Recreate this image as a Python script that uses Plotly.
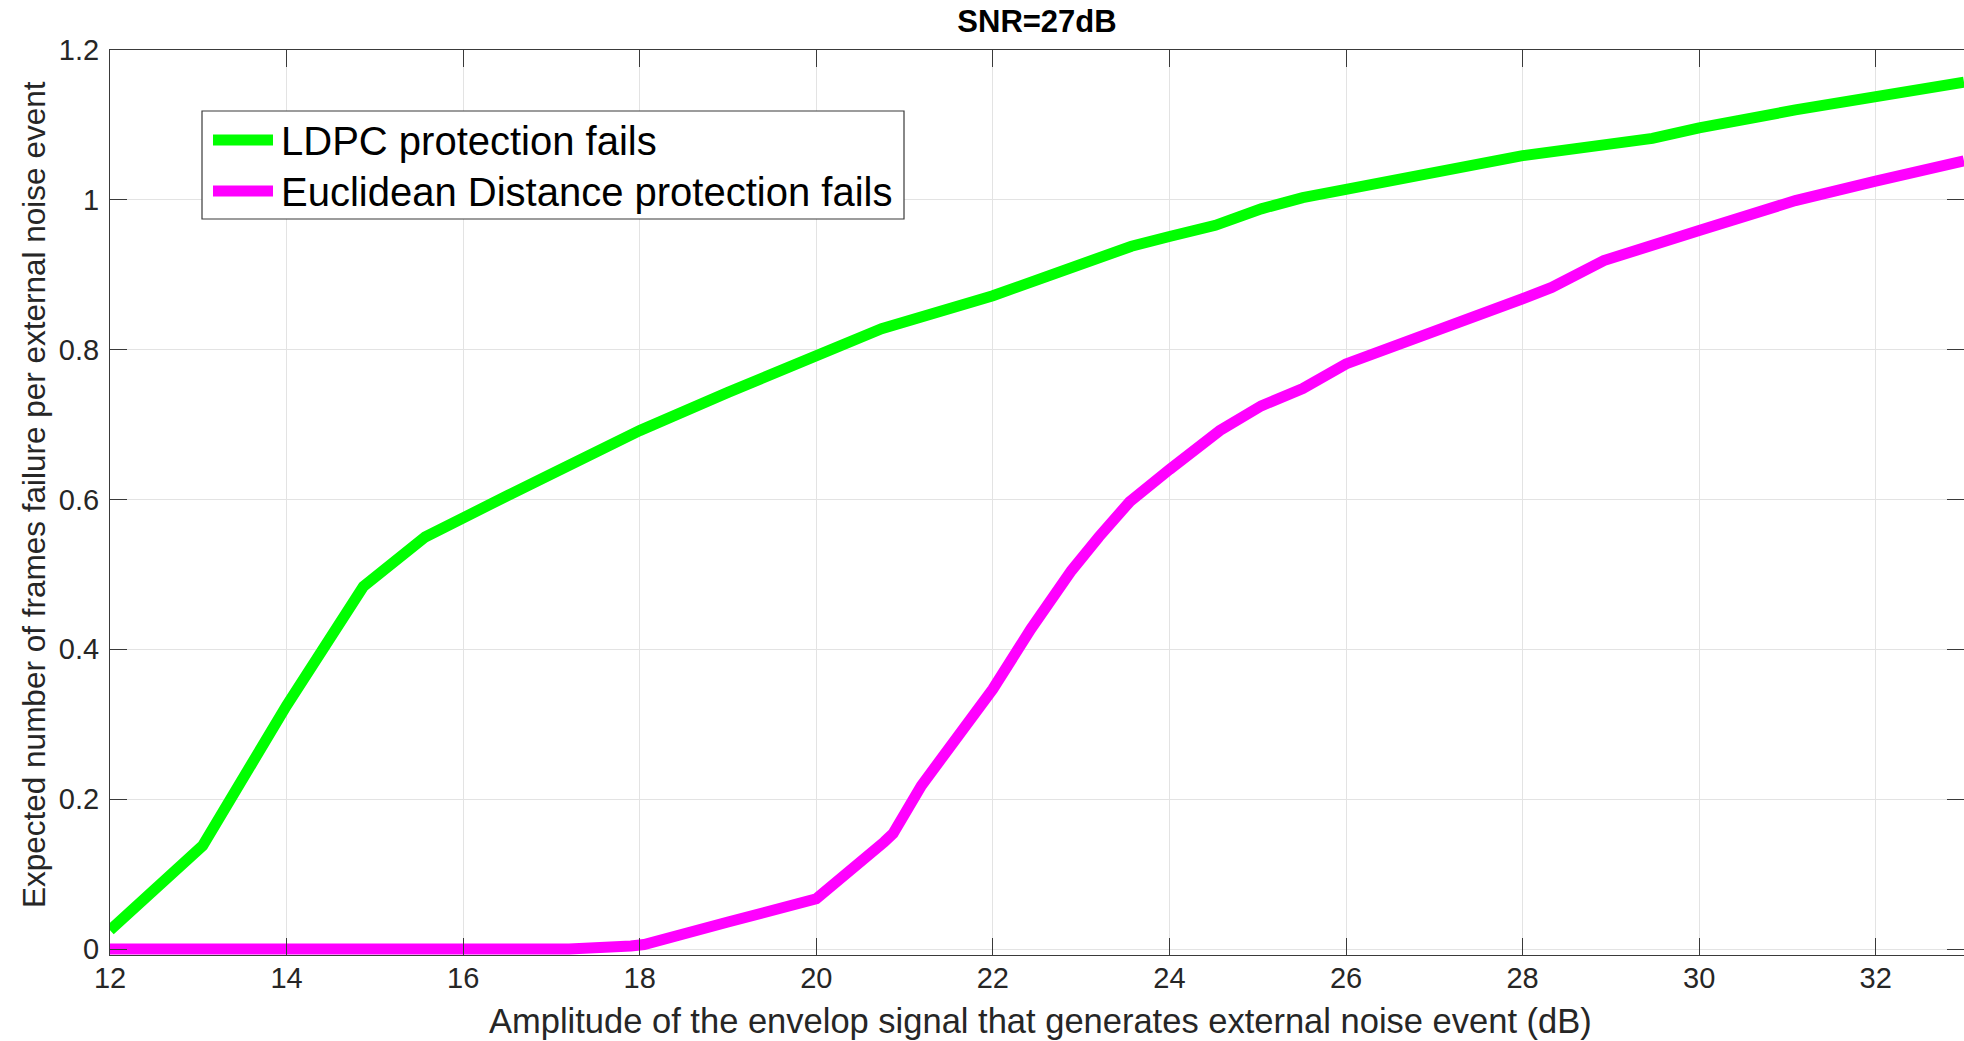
import plotly.graph_objects as go

# ---------------- data ----------------
ldpc_x = [12, 13.0, 13.05, 14, 14.8, 14.87, 15.57, 16, 16.5, 17, 18, 19, 20, 20.74,
          22, 22.96, 23.57, 24, 24.52, 25.04, 25.51, 26, 27, 28, 29.47, 30, 31.09, 32, 33]
ldpc_y = [0.025, 0.130, 0.138, 0.325, 0.472, 0.484, 0.550, 0.577, 0.605, 0.634, 0.692,
          0.743, 0.794, 0.828, 0.872, 0.910, 0.938, 0.951, 0.966, 0.988, 1.003, 1.014,
          1.035, 1.059, 1.082, 1.096, 1.120, 1.136, 1.157]

eucl_x = [12, 17.2, 17.9, 18.05, 19, 20, 20.77, 20.87, 21.19, 21.6, 22, 22.43, 22.89, 23.2,
          23.49, 23.55, 24, 24.57, 25.04, 25.51, 26, 27, 28, 28.33, 28.92, 30, 30.56, 31.09, 32, 33]
eucl_y = [0.0, 0.0, 0.004, 0.006, 0.036, 0.067, 0.143, 0.154, 0.218, 0.283, 0.347, 0.427,
          0.505, 0.550, 0.588, 0.597, 0.640, 0.692, 0.725, 0.748, 0.781, 0.823, 0.868, 0.883,
          0.919, 0.959, 0.981, 0.999, 1.025, 1.052]

series_names = ["LDPC protection fails", "Euclidean Distance protection fails"]
series_colors = ["#00ff00", "#ff00ff"]

x_ticks = [12, 14, 16, 18, 20, 22, 24, 26, 28, 30, 32]
y_ticks = [0, 0.2, 0.4, 0.6, 0.8, 1.0, 1.2]

title_text = "SNR=27dB"
x_title = "Amplitude of the envelop signal that generates external noise event (dB)"
y_title = "Expected number of frames failure per external noise event"

# ---------------- layout geometry ----------------
W, H = 1964, 1041
ML, MT, MB, MR = 110, 50, 86, 0
PW = W - ML - MR
PH = H - MT - MB
LW = 11
FONT = "Liberation Sans, Arial, Helvetica, sans-serif"
AX = "#262626"


def px_x(p):
    return (p - ML) / PW


def px_y(p):
    return (H - MB - p) / PH


fig = go.Figure()
for xs, ys, name, col in zip([ldpc_x, eucl_x], [ldpc_y, eucl_y], series_names, series_colors):
    fig.add_trace(go.Scatter(x=xs, y=ys, mode="lines", name=name,
                             line=dict(color=col, width=LW), showlegend=False))

axis_common = dict(
    showline=True, linecolor="#3a3a3a", linewidth=1, mirror="ticks",
    ticks="inside", ticklen=17, tickwidth=1, tickcolor="#3a3a3a",
    showgrid=True, gridcolor="#e3e3e3", gridwidth=1, zeroline=False,
    tickfont=dict(family=FONT, size=29, color=AX),
)
fig.update_xaxes(range=[12, 33], tickvals=x_ticks, ticklabelstandoff=-3, **axis_common)
fig.update_yaxes(range=[-0.008, 1.2], tickvals=y_ticks, ticklabelstandoff=4, **axis_common)

# manual legend (MATLAB-style box)
shapes = [
    dict(type="rect", xref="paper", yref="paper",
         x0=px_x(202), x1=px_x(904), y0=px_y(219), y1=px_y(111),
         line=dict(color="#3a3a3a", width=1.2), fillcolor="white", layer="above"),
]
annotations = []
for i, (name, col) in enumerate(zip(series_names, series_colors)):
    yy = [140, 191][i]
    shapes.append(dict(type="line", xref="paper", yref="paper",
                       x0=px_x(213), x1=px_x(273), y0=px_y(yy), y1=px_y(yy),
                       line=dict(color=col, width=LW), layer="above"))
    annotations.append(dict(text=name, xref="paper", yref="paper",
                            x=px_x(279), y=px_y(yy + 1), xanchor="left", yanchor="middle",
                            showarrow=False, font=dict(family=FONT, size=40, color="black")))

annotations.append(dict(text=x_title, xref="paper", yref="paper", x=px_x(1040), y=px_y(1021),
                        xanchor="center", yanchor="middle", showarrow=False,
                        font=dict(family=FONT, size=34.5, color=AX)))
annotations.append(dict(text=y_title, xref="paper", yref="paper", x=px_x(34), y=px_y(495),
                        xanchor="center", yanchor="middle", showarrow=False, textangle=-90,
                        font=dict(family=FONT, size=31.5, color=AX)))

fig.update_layout(
    width=W, height=H,
    margin=dict(l=ML, r=MR, t=MT, b=MB),
    paper_bgcolor="white", plot_bgcolor="white",
    title=dict(text=title_text, x=0.5, xref="paper", xanchor="center",
               y=1 - 21 / H, yref="container", yanchor="middle",
               font=dict(family=FONT, size=31, color="black", weight="bold")),
    shapes=shapes, annotations=annotations,
)

fig.write_html("out.html")
